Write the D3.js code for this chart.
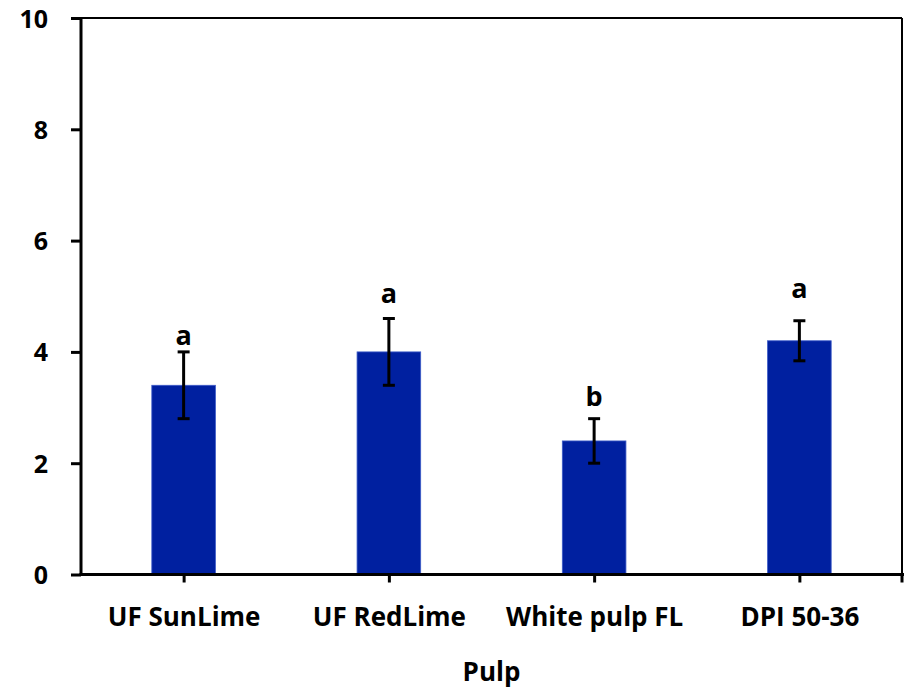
<!DOCTYPE html>
<html>
<head>
<meta charset="utf-8">
<script src="https://cdn.jsdelivr.net/npm/d3@7"></script>
<style>
  body { margin: 0; background: #fff; }
  text { font-family: "Open Sans", Lato, sans-serif; font-weight: bold; fill: #000; }
</style>
</head>
<body>
<div id="chart"></div>
<script>
// Chart data
var categories = ["UF SunLime", "UF RedLime", "White pulp FL", "DPI 50-36"],
  means = [3.4, 4.0, 2.4, 4.2],
  errors = [0.6, 0.6, 0.4, 0.36],
  letters = ["a", "a", "b", "a"],
  letterY = [4.12, 4.88, 3.02, 4.97],
  yTicks = [0, 2, 4, 6, 8, 10];

// Placement
var width = 906,
  height = 690,
  mLeft = 81,
  mTop = 18,
  plotW = 902 - mLeft,
  plotH = 574.5 - mTop;

var svg = d3.select("#chart")
  .append("svg")
  .attr("width", width)
  .attr("height", height);

var g = svg.append("g")
  .attr("transform", "translate(" + mLeft + "," + mTop + ")");

// scales
var x = d3.scaleBand()
  .domain(categories)
  .range([0, plotW])
  .paddingInner(0.69)
  .paddingOuter(0.345);
var xc = d3.scalePoint()
  .domain(categories)
  .range([0, plotW])
  .padding(0.5);
var y = d3.scaleLinear()
  .domain([0, 10])
  .range([plotH, 0]);

// box (thin top and right)
g.append("line")
  .attr("x1", 0).attr("x2", plotW)
  .attr("y1", 0).attr("y2", 0)
  .attr("stroke", "#000").attr("stroke-width", 2);
g.append("line")
  .attr("x1", plotW).attr("x2", plotW)
  .attr("y1", 0).attr("y2", plotH)
  .attr("stroke", "#000").attr("stroke-width", 2);

// bars
g.append("g").selectAll("rect")
  .data(categories)
  .enter().append("rect")
  .attr("x", function(d) { return x(d); })
  .attr("width", x.bandwidth())
  .attr("y", function(d, i) { return y(means[i]); })
  .attr("height", function(d, i) { return y(0) - y(means[i]); })
  .attr("fill", "#0020a0")
  .attr("stroke", "#3d5bc8")
  .attr("stroke-width", 0.8);

// error bars
var eb = g.append("g").selectAll("g")
  .data(categories)
  .enter().append("g")
  .attr("stroke", "#000")
  .attr("stroke-width", 3);
eb.append("line")
  .attr("x1", function(d) { return xc(d); })
  .attr("x2", function(d) { return xc(d); })
  .attr("y1", function(d, i) { return y(means[i] - errors[i]); })
  .attr("y2", function(d, i) { return y(means[i] + errors[i]); });
eb.append("line")
  .attr("x1", function(d) { return xc(d) - 6; })
  .attr("x2", function(d) { return xc(d) + 6; })
  .attr("y1", function(d, i) { return y(means[i] + errors[i]); })
  .attr("y2", function(d, i) { return y(means[i] + errors[i]); });
eb.append("line")
  .attr("x1", function(d) { return xc(d) - 6; })
  .attr("x2", function(d) { return xc(d) + 6; })
  .attr("y1", function(d, i) { return y(means[i] - errors[i]); })
  .attr("y2", function(d, i) { return y(means[i] - errors[i]); });

// significance letters
g.append("g").selectAll("text")
  .data(categories)
  .enter().append("text")
  .attr("x", function(d) { return xc(d); })
  .attr("y", function(d, i) { return y(letterY[i]); })
  .attr("text-anchor", "middle")
  .style("font-size", "27px")
  .text(function(d, i) { return letters[i]; });

// y axis
var yAxis = g.append("g")
  .call(d3.axisLeft(y).tickValues(yTicks).tickSize(10).tickPadding(23).tickFormat(d3.format("d")));
yAxis.select(".domain").attr("stroke-width", 3).attr("d", "M0," + (plotH + 1.5) + "V-1");
yAxis.selectAll(".tick line").attr("stroke-width", 3);
yAxis.selectAll(".tick text").style("font-size", "25px").attr("dy", "0.36em");

// x axis
var xAxis = g.append("g")
  .attr("transform", "translate(0," + plotH + ")")
  .call(d3.axisBottom(xc).tickSize(8).tickPadding(25));
xAxis.select(".domain").attr("stroke-width", 3).attr("d", "M-1.5,0H" + (plotW + 2));
xAxis.selectAll(".tick line").attr("stroke-width", 3);
xAxis.selectAll(".tick text").style("font-size", "26px");
xAxis.append("line")
  .attr("x1", plotW).attr("x2", plotW)
  .attr("y1", 0).attr("y2", 8)
  .attr("stroke", "#000").attr("stroke-width", 3);

// axis title
svg.append("text")
  .attr("x", mLeft + plotW / 2)
  .attr("y", 681)
  .attr("text-anchor", "middle")
  .style("font-size", "26px")
  .text("Pulp");
</script>
</body>
</html>
